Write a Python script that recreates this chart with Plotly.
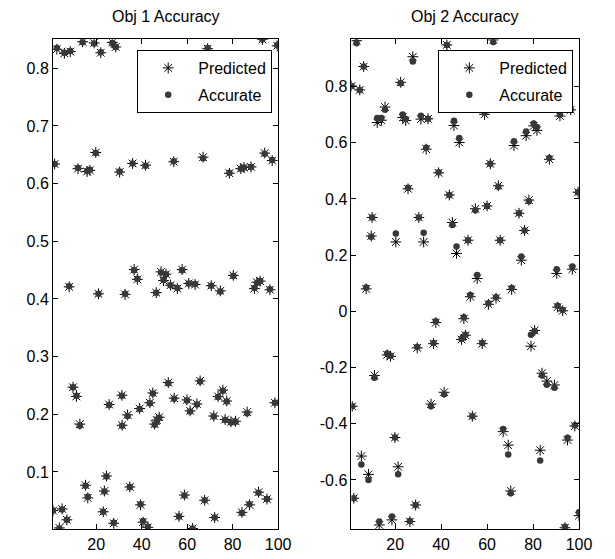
import plotly.graph_objects as go

# ---------------- Obj 1 data ----------------
obj1_x = [1.0, 1.7, 2.7, 3.8, 5.0, 6.0, 7.1, 8.1, 8.6, 9.8, 11.3, 12.0, 12.8, 14.0, 15.3, 16.0, 16.3, 17.2,
          19.1, 19.8, 21.0, 22.0, 23.1, 23.6, 24.5, 25.7, 27.1, 27.7, 28.6, 30.3, 31.3, 31.4, 32.7, 33.8,
          34.8, 36.0, 36.7, 38.1, 39.1, 39.5, 40.6, 41.7, 42.7, 43.6, 44.9, 45.7, 46.4, 46.7, 47.7, 48.5,
          49.6, 50.7, 51.7, 52.7, 54.1, 54.3, 55.7, 56.4, 57.8, 58.8, 59.9, 60.7, 61.3, 62.4, 63.5, 64.3,
          65.7, 67.0, 67.7, 69.0, 70.6, 71.7, 72.1, 73.6, 74.6, 75.7, 76.7, 77.4, 78.6, 79.3, 80.3, 81.3,
          83.6, 84.1, 85.0, 86.4, 87.4, 88.1, 89.6, 90.7, 91.4, 92.1, 93.1, 94.1, 95.1, 96.4, 97.4, 98.6, 99.6]
obj1_accurate = [0.033, 0.634, 0.835, 0.002, 0.035, 0.827, 0.017, 0.422, 0.830, 0.247, 0.232, 0.627, 0.180,
                 0.845, 0.076, 0.622, 0.057, 0.624, 0.843, 0.653, 0.409, 0.828, 0.031, 0.066, 0.092, 0.216,
                 0.844, 0.012, 0.837, 0.621, 0.232, 0.180, 0.409, 0.197, 0.074, 0.635, 0.450, 0.435, 0.209,
                 0.044, 0.015, 0.631, 0.005, 0.219, 0.236, 0.182, 0.411, 0.188, 0.194, 0.446, 0.433, 0.443,
                 0.254, 0.424, 0.639, 0.227, 0.419, 0.023, 0.450, 0.059, 0.224, 0.427, 0.205, 0.002, 0.426,
                 0.217, 0.257, 0.644, 0.051, 0.835, 0.423, 0.196, 0.021, 0.230, 0.413, 0.241, 0.190, 0.222,
                 0.619, 0.186, 0.440, 0.187, 0.626, 0.029, 0.628, 0.202, 0.044, 0.629, 0.419, 0.428, 0.064,
                 0.431, 0.850, 0.652, 0.053, 0.417, 0.641, 0.220, 0.840]
obj1_predicted = [0.033, 0.634, 0.833, 0.003, 0.036, 0.826, 0.017, 0.421, 0.829, 0.247, 0.231, 0.626, 0.183,
                  0.846, 0.077, 0.621, 0.055, 0.623, 0.844, 0.654, 0.409, 0.827, 0.031, 0.067, 0.093, 0.217,
                  0.845, 0.011, 0.837, 0.620, 0.233, 0.181, 0.408, 0.199, 0.074, 0.635, 0.451, 0.434, 0.210,
                  0.043, 0.013, 0.632, 0.004, 0.220, 0.237, 0.183, 0.411, 0.190, 0.195, 0.447, 0.432, 0.443,
                  0.255, 0.424, 0.638, 0.228, 0.418, 0.023, 0.451, 0.060, 0.225, 0.427, 0.206, 0.002, 0.425,
                  0.218, 0.258, 0.646, 0.051, 0.834, 0.423, 0.197, 0.021, 0.231, 0.414, 0.242, 0.191, 0.223,
                  0.618, 0.187, 0.441, 0.188, 0.626, 0.030, 0.628, 0.204, 0.043, 0.629, 0.418, 0.429, 0.065,
                  0.431, 0.850, 0.653, 0.053, 0.416, 0.640, 0.220, 0.839]

# ---------------- Obj 2 data ----------------
obj2_x = [1.0, 1.3, 2.0, 3.2, 4.6, 5.3, 6.3, 7.4, 8.4, 9.6, 10.0, 11.0, 12.2, 13.1, 14.0, 15.6, 16.5, 18.0,
          18.6, 19.9, 20.3, 21.3, 22.4, 23.3, 24.6, 25.6, 26.4, 27.7, 28.9, 29.6, 30.3, 31.2, 32.4, 33.5,
          34.3, 35.6, 36.7, 37.7, 38.9, 41.3, 42.5, 43.6, 44.9, 45.6, 46.7, 47.9, 48.9, 49.9, 50.6, 51.7,
          52.7, 53.6, 54.9, 55.7, 57.9, 58.9, 60.0, 60.6, 61.4, 62.7, 63.9, 64.9, 65.7, 67.0, 69.2, 70.3,
          70.7, 71.7, 73.9, 74.9, 76.3, 77.0, 78.2, 79.1, 80.3, 80.7, 81.7, 83.1, 83.9, 86.0, 87.1, 89.3,
          90.3, 90.7, 91.7, 92.9, 93.9, 95.0, 96.4, 97.1, 98.2, 99.6, 100.0]
obj2_accurate = [0.802, -0.338, -0.665, 0.954, 0.788, -0.545, 0.871, 0.085, -0.600, 0.265, 0.334, -0.236,
                 0.688, -0.748, 0.688, 0.717, -0.150, -0.158, -0.730, -0.449, 0.277, -0.580, 0.812, 0.700,
                 0.684, 0.440, -0.746, 0.889, -0.689, -0.127, 0.334, 0.696, 0.280, 0.582, 0.685, -0.338,
                 -0.113, -0.035, 0.495, -0.295, 0.948, 0.414, 0.307, 0.678, 0.231, 0.617, -0.098, -0.021,
                 -0.083, 0.253, 0.058, -0.373, 0.360, 0.129, -0.113, 0.706, 0.375, 0.029, 0.525, 0.958,
                 0.050, 0.443, 0.253, -0.419, -0.509, -0.647, 0.083, 0.605, 0.349, 0.195, 0.288, 0.640,
                 0.392, -0.083, 0.668, -0.071, 0.656, -0.531, -0.228, -0.261, 0.546, -0.272, 0.150, 0.020,
                 0.700, 0.005, -0.766, -0.450, 0.717, 0.160, -0.405, 0.424, -0.715]
obj2_predicted = [0.802, -0.338, -0.665, 0.963, 0.788, -0.515, 0.871, 0.080, -0.580, 0.268, 0.334, -0.228,
                  0.672, -0.760, 0.680, 0.727, -0.155, -0.160, -0.742, -0.449, 0.247, -0.553, 0.815, 0.690,
                  0.679, 0.436, -0.748, 0.906, -0.689, -0.130, 0.334, 0.684, 0.247, 0.577, 0.685, -0.330,
                  -0.115, -0.040, 0.493, -0.288, 0.948, 0.414, 0.316, 0.661, 0.206, 0.601, -0.100, -0.026,
                  -0.085, 0.253, 0.052, -0.373, 0.365, 0.117, -0.115, 0.701, 0.375, 0.025, 0.525, 0.966,
                  0.047, 0.447, 0.253, -0.428, -0.476, -0.639, 0.078, 0.590, 0.349, 0.182, 0.288, 0.625,
                  0.396, -0.124, 0.660, -0.068, 0.644, -0.494, -0.220, -0.248, 0.541, -0.262, 0.135, 0.015,
                  0.695, 0.002, -0.770, -0.458, 0.717, 0.150, -0.408, 0.424, -0.727]

titles = ["Obj 1 Accuracy", "Obj 2 Accuracy"]
x_ticks = [20, 40, 60, 80, 100]
y1_ticks = [0.1, 0.2, 0.3, 0.4, 0.5, 0.6, 0.7, 0.8]
y2_ticks = [-0.6, -0.4, -0.2, 0, 0.2, 0.4, 0.6, 0.8]
y2_tick_text = ["-0.6", "-0.4", "-0.2", "0", "0.2", "0.4", "0.6", "0.8"]

FONT = "Liberation Sans, Arial, sans-serif"
STAR = dict(symbol="asterisk-open", size=9, color="black", line=dict(color="black", width=1))
DOT = dict(symbol="circle", size=6.5, color="#383838", line=dict(width=0))

# the page body has an 8px margin; the figure is sized so that it fills the window exactly
W, H = 607, 551
OFF = 8


def px_x(p):
    return (p - OFF) / W


def px_y(p):
    return 1 - (p - OFF) / H


fig = go.Figure()
fig.add_trace(go.Scatter(x=obj1_x, y=obj1_predicted, mode="markers", name="Predicted", marker=STAR,
                         xaxis="x", yaxis="y", legend="legend", legendgroup="p1"))
fig.add_trace(go.Scatter(x=obj1_x, y=obj1_accurate, mode="markers", name="Accurate", marker=DOT,
                         xaxis="x", yaxis="y", legend="legend", legendgroup="a1"))
fig.add_trace(go.Scatter(x=obj2_x, y=obj2_predicted, mode="markers", name="Predicted", marker=STAR,
                         xaxis="x2", yaxis="y2", legend="legend2", legendgroup="p2"))
fig.add_trace(go.Scatter(x=obj2_x, y=obj2_accurate, mode="markers", name="Accurate", marker=DOT,
                         xaxis="x2", yaxis="y2", legend="legend2", legendgroup="a2"))

axis_common = dict(showline=True, linecolor="black", linewidth=1, mirror="ticks", ticks="inside",
                   ticklen=5, tickcolor="black", showgrid=False, zeroline=False,
                   tickfont=dict(family=FONT, size=16, color="black"))

ydom = [px_y(529.3), px_y(39.3)]
legend_common = dict(xanchor="right", y=px_y(50), yanchor="top", bgcolor="white",
                     bordercolor="black", borderwidth=1, font=dict(family=FONT, size=16, color="black"),
                     itemwidth=50, traceorder="grouped", tracegroupgap=3)
fig.update_layout(
    width=W, height=H,
    margin=dict(l=0, r=0, t=0, b=0),
    paper_bgcolor="white", plot_bgcolor="white",
    showlegend=True,
    xaxis=dict(domain=[px_x(54), px_x(284)], range=[1, 100], tickvals=x_ticks, anchor="y", **axis_common),
    yaxis=dict(domain=ydom, range=[0.0006, 0.8503], tickvals=y1_ticks, anchor="x", **axis_common),
    xaxis2=dict(domain=[px_x(359), px_x(591.5)], range=[1, 100], tickvals=x_ticks, anchor="y2", **axis_common),
    yaxis2=dict(domain=ydom, range=[-0.7755, 0.968], tickvals=y2_ticks, ticktext=y2_tick_text,
                anchor="x2", **axis_common),
    legend=dict(x=px_x(278), **legend_common),
    legend2=dict(x=px_x(585.7), **legend_common),
    annotations=[
        dict(text=titles[0], x=px_x((54 + 284) / 2), y=px_y(17), xref="paper", yref="paper",
             xanchor="center", yanchor="middle", showarrow=False,
             font=dict(family=FONT, size=16, color="black")),
        dict(text=titles[1], x=px_x((359 + 591.5) / 2), y=px_y(17), xref="paper", yref="paper",
             xanchor="center", yanchor="middle", showarrow=False,
             font=dict(family=FONT, size=16, color="black")),
    ],
)

fig.write_html("out.html")
